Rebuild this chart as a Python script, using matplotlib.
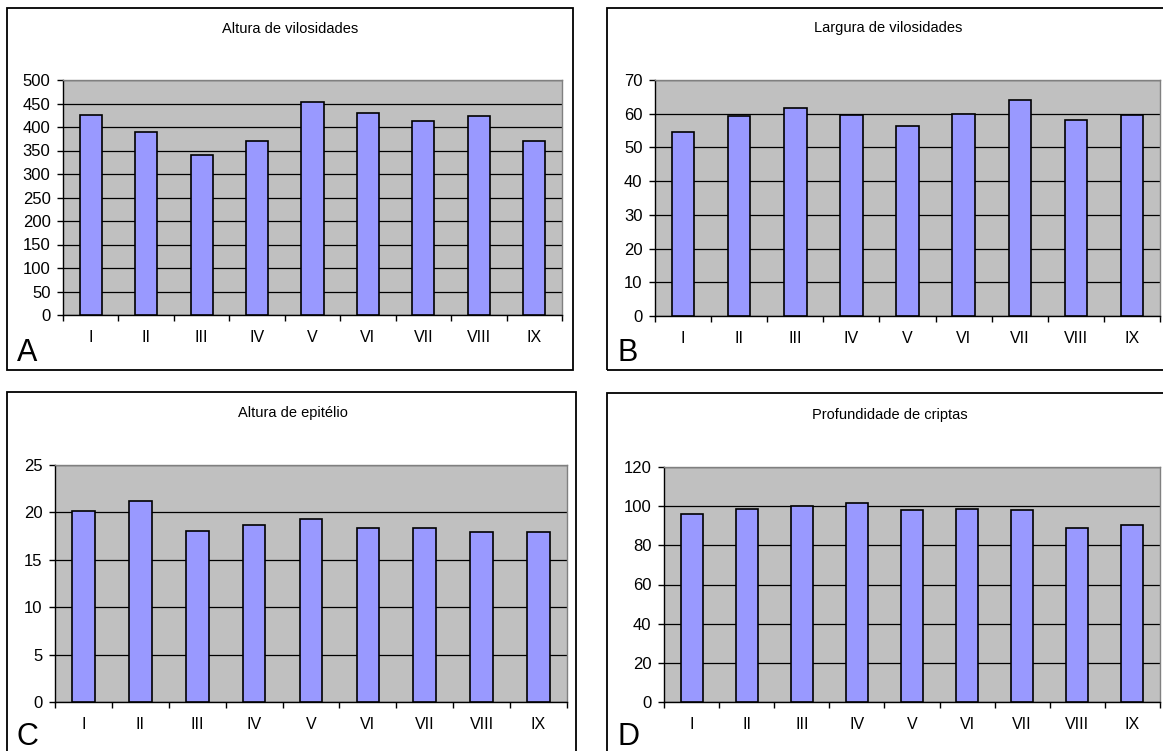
import matplotlib.pyplot as plt
import matplotlib.patches as mpatches
import numpy as np

plt.rcParams['font.family'] = ['Liberation Sans', 'DejaVu Sans']

# Data
groups = ['I', 'II', 'III', 'IV', 'V', 'VI', 'VII', 'VIII', 'IX']
altura_vilos = [426, 389, 340, 370, 454, 429, 412, 423, 370]
largura_vilos = [54.6, 59.2, 61.6, 59.7, 56.5, 60.0, 64.1, 58.1, 59.7]
altura_epit = [20.15, 21.15, 18.05, 18.65, 19.35, 18.35, 18.35, 17.9, 17.9]
prof_criptas = [95.8, 98.5, 100.2, 101.8, 97.8, 98.5, 97.8, 89.1, 90.5]

titles = ['Altura de vilosidades', 'Largura de vilosidades',
          'Altura de epitélio', 'Profundidade de criptas']
letters = ['A', 'B', 'C', 'D']
ymax = [500, 70, 25, 120]
ystep = [50, 10, 5, 20]

W, H = 1163, 751
fig = plt.figure(figsize=(W / 100, H / 100), dpi=100)


def rect(l, t, r, b):
    return [l / W, 1 - b / H, (r - l) / W, (b - t) / H]


# panel frames (pixel boxes), plot areas, title and letter positions
frames = [(7, 8, 573, 370), (607, 8, 1175, 370),
          (7, 392, 576, 765), (607, 393, 1175, 765)]
plots = [(63, 80, 562, 315), (655, 80, 1160, 316),
         (55, 465, 567, 702), (664, 467, 1160, 702)]
title_pos = [(290, 29), (888, 28), (293, 413), (890, 415)]
letter_pos = [(17, 361), (617, 361), (17, 745), (617, 745)]

series = [altura_vilos, largura_vilos, altura_epit, prof_criptas]

for i in range(4):
    l, t, r, b = frames[i]
    fig.patches.append(mpatches.Rectangle((l / W, 1 - b / H), (r - l) / W, (b - t) / H,
                                          transform=fig.transFigure, fill=False,
                                          edgecolor='black', linewidth=1.3, zorder=0))

    ax = fig.add_axes(rect(*plots[i]))
    ax.set_facecolor('#C0C0C0')
    x = np.arange(len(groups)) + 0.5
    ax.bar(x, series[i], width=0.4, color='#9999FF', edgecolor='black',
           linewidth=1.2, zorder=3)
    ax.set_xlim(0, len(groups))
    ax.set_ylim(0, ymax[i])
    ax.set_yticks(np.arange(0, ymax[i] + 1, ystep[i]))
    ax.yaxis.grid(True, color='black', linewidth=0.9, zorder=1)
    ax.set_axisbelow(True)

    ax.set_xticks(np.arange(0, len(groups) + 1))
    ax.set_xticklabels([])
    ax.set_xticks(x, minor=True)
    ax.set_xticklabels(groups, minor=True)
    ax.tick_params(axis='x', which='major', direction='out', length=4, width=1)
    ax.tick_params(axis='x', which='minor', length=0, pad=11, labelsize=11.5)
    ax.tick_params(axis='y', direction='out', length=4, width=1, pad=5, labelsize=12)

    for s in ['left', 'bottom']:
        ax.spines[s].set_color('black')
        ax.spines[s].set_linewidth(1.0)
    for s in ['top', 'right']:
        ax.spines[s].set_color('#808080')
        ax.spines[s].set_linewidth(1.0)

    tx, ty = title_pos[i]
    fig.text(tx / W, 1 - ty / H, titles[i], ha='center', va='center', fontsize=10.5)
    lx, ly = letter_pos[i]
    fig.text(lx / W, 1 - ly / H, letters[i], ha='left', va='baseline', fontsize=22)

plt.savefig('out.png', dpi=100)
